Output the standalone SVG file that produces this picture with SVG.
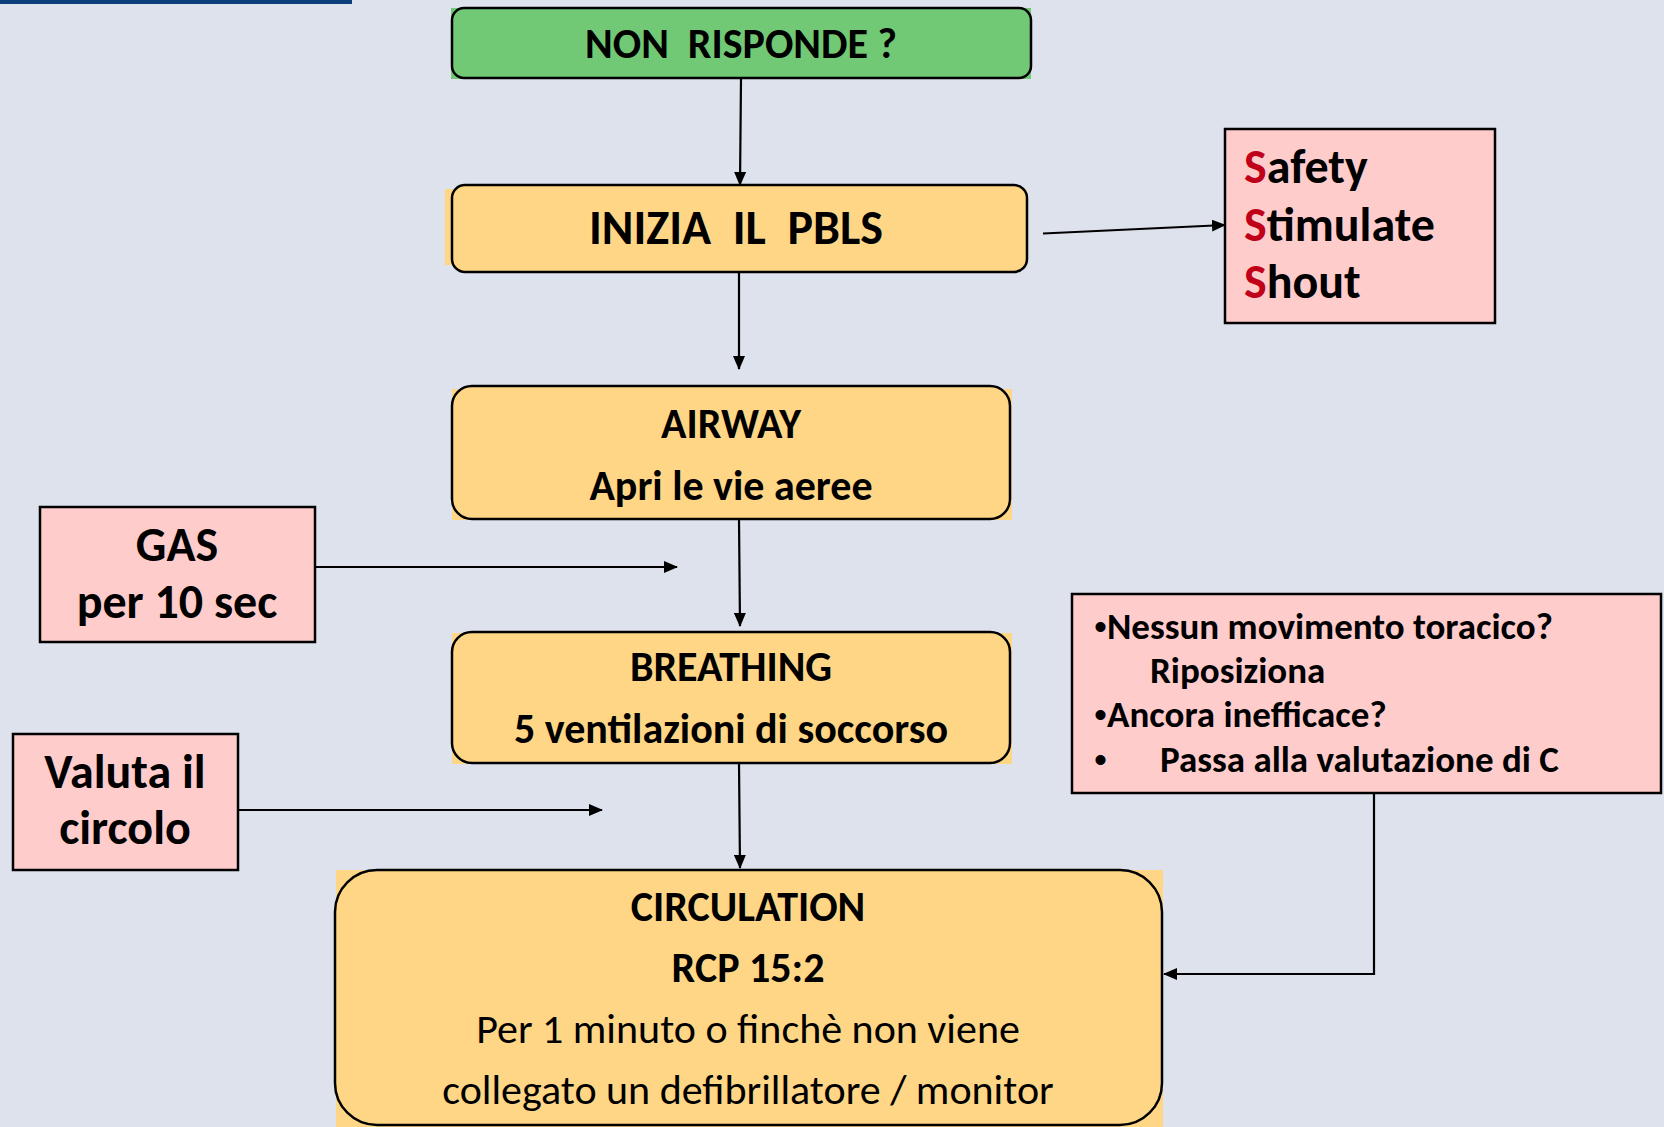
<svg xmlns="http://www.w3.org/2000/svg" width="1664" height="1127" viewBox="0 0 1664 1127">
<defs>
<style>
.t{font-family:Carlito,Lato,"Liberation Sans",sans-serif;fill:#000;white-space:pre}
.b{font-weight:bold}
.c{text-anchor:middle}
.red{fill:#c00018}
.bul{font-family:"Liberation Sans",Arial,sans-serif;font-weight:normal}
.box{stroke:#000;stroke-width:2.5}
.pink{fill:#ffcccc;stroke:#000;stroke-width:2.5}
.yl{fill:#ffd685}
.gr{fill:#72c975}
.ln{stroke:#000;stroke-width:2.2;fill:none;marker-end:url(#ah)}
</style>
<marker id="ah" markerUnits="userSpaceOnUse" markerWidth="14" markerHeight="12" refX="13" refY="6" orient="auto">
<path d="M0,0 L14,6 L0,12 Z" fill="#000"/>
</marker>
</defs>
<rect x="0" y="0" width="1664" height="1127" fill="#dee2ed"/>
<rect x="0" y="0" width="352" height="4" fill="#0a3f7a"/>

<g id="connectors">
<line class="ln" x1="741" y1="79" x2="740" y2="185"/>
<line class="ln" x1="1043" y1="233.5" x2="1225" y2="225"/>
<line class="ln" x1="739" y1="267" x2="739" y2="369"/>
<line class="ln" x1="739" y1="519" x2="740" y2="626"/>
<line class="ln" x1="315" y1="567" x2="677" y2="567"/>
<line class="ln" x1="739" y1="763" x2="740" y2="868"/>
<line class="ln" x1="238" y1="810" x2="602" y2="810"/>
<polyline class="ln" points="1374,793 1374,974 1164,974"/>
</g>

<g id="non-risponde">
<rect x="451" y="8" width="580" height="71" class="gr"/>
<rect x="452" y="8" width="579" height="70" rx="12" class="gr box"/>
<text x="741" y="58" class="t b c" font-size="42" xml:space="preserve">NON  RISPONDE ?</text>
</g>

<g id="inizia">
<rect x="445" y="189" width="582" height="76" class="yl"/>
<rect x="452" y="185" width="575" height="87" rx="13" class="yl box"/>
<text x="736" y="244" class="t b c" font-size="48" xml:space="preserve">INIZIA  IL  PBLS</text>
</g>

<g id="sss">
<rect x="1225" y="129" width="270" height="194" class="pink"/>
<text x="1244" y="183" class="t b" font-size="48"><tspan class="red">S</tspan>afety</text>
<text x="1244" y="241" class="t b" font-size="48"><tspan class="red">S</tspan>timulate</text>
<text x="1244" y="298" class="t b" font-size="48"><tspan class="red">S</tspan>hout</text>
</g>

<g id="airway">
<rect x="452" y="389" width="560" height="131" class="yl"/>
<rect x="452" y="386" width="558" height="133" rx="20" class="yl box"/>
<text x="731" y="438" class="t b c" font-size="42">AIRWAY</text>
<text x="731" y="500" class="t b c" font-size="42">Apri le vie aeree</text>
</g>

<g id="gas">
<rect x="40" y="507" width="275" height="135" class="pink"/>
<text x="177" y="561" class="t b c" font-size="48">GAS</text>
<text x="177" y="618" class="t b c" font-size="48">per 10 sec</text>
</g>

<g id="breathing">
<rect x="452" y="633" width="560" height="131" class="yl"/>
<rect x="452" y="632" width="558" height="131" rx="20" class="yl box"/>
<text x="731" y="681" class="t b c" font-size="42">BREATHING</text>
<text x="731" y="743" class="t b c" font-size="42">5 ventilazioni di soccorso</text>
</g>

<g id="valuta">
<rect x="13" y="734" width="225" height="136" class="pink"/>
<text x="125" y="788" class="t b c" font-size="48">Valuta il</text>
<text x="125" y="844" class="t b c" font-size="48">circolo</text>
</g>

<g id="nessun">
<rect x="1072" y="594" width="589" height="199" class="pink"/>
<text x="1094" y="639" class="t b" font-size="37"><tspan class="bul">•</tspan>Nessun movimento toracico?</text>
<text x="1150" y="683" class="t b" font-size="37">Riposiziona</text>
<text x="1094" y="727" class="t b" font-size="37"><tspan class="bul">•</tspan>Ancora inefficace?</text>
<text x="1094" y="772" class="t b bul" font-size="37">•</text>
<text x="1160" y="772" class="t b" font-size="37">Passa alla valutazione di C</text>
</g>

<g id="circulation">
<rect x="336" y="870" width="827" height="257" class="yl"/>
<rect x="335" y="870" width="827" height="255" rx="42" class="yl box"/>
<text x="748" y="921" class="t b c" font-size="42">CIRCULATION</text>
<text x="748" y="982" class="t b c" font-size="42">RCP 15:2</text>
<text x="748" y="1043" class="t c" font-size="42">Per 1 minuto o finchè non viene</text>
<text x="748" y="1104" class="t c" font-size="42">collegato un defibrillatore / monitor</text>
</g>
</svg>
